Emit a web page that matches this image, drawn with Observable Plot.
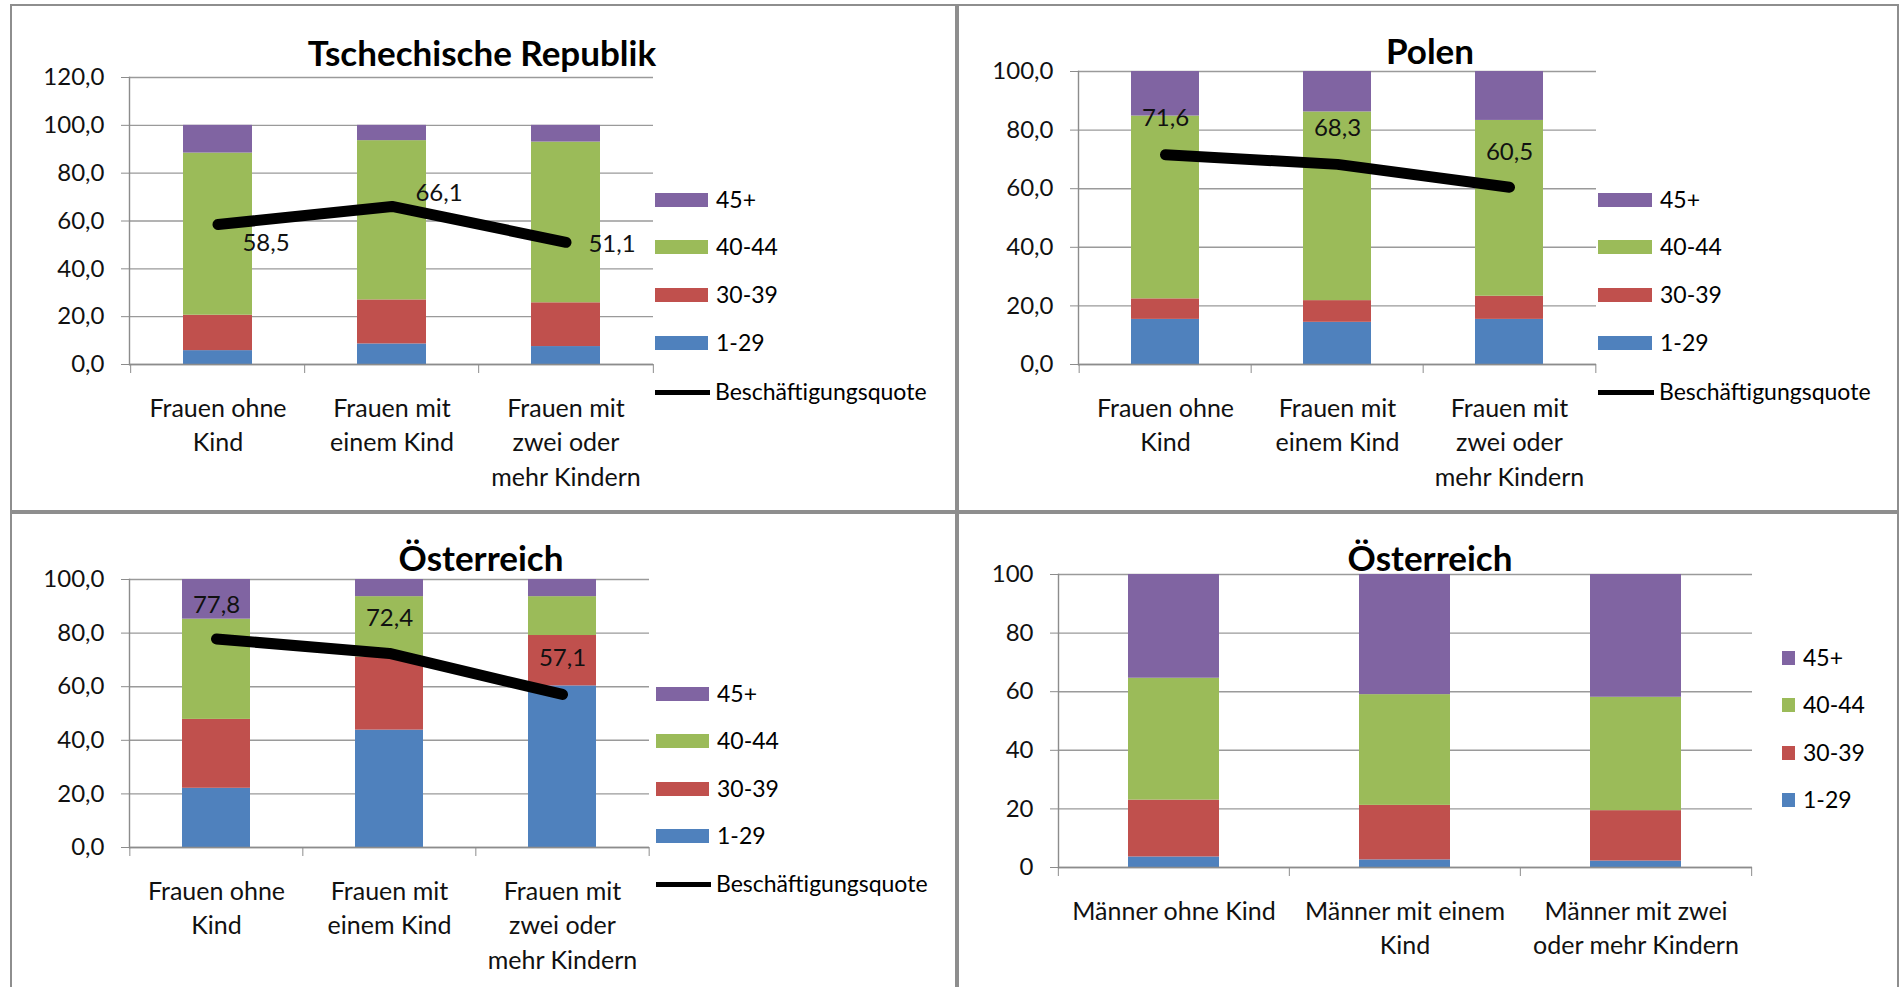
<!DOCTYPE html>
<html><head><meta charset="utf-8">
<script src="https://cdn.jsdelivr.net/npm/d3@7"></script>
<script src="https://cdn.jsdelivr.net/npm/@observablehq/plot@0.6"></script>
<style>
body{margin:0;background:#fff;font-family:Lato,"Open Sans",sans-serif;}
#page{position:relative;width:1901px;height:987px;overflow:hidden;background:#fff;}
.panel{position:absolute;box-sizing:border-box;border:2.5px solid #8e8e8e;}
.chart{position:absolute;}
.txt{position:absolute;line-height:1;white-space:nowrap;color:#000;}
.sw{position:absolute;}
</style></head><body><div id="page"></div>
<script>
// ---------- data ----------
const ageGroups = ["1-29", "30-39", "40-44", "45+"];
const ageColors = ["#4F81BD", "#C0504D", "#9BBB59", "#8064A2"];
const quoteName = "Beschäftigungsquote";

const womenCats = ["Frauen ohne Kind", "Frauen mit einem Kind", "Frauen mit zwei oder mehr Kindern"];
const womenLabels = ["Frauen ohne\nKind", "Frauen mit\neinem Kind", "Frauen mit\nzwei oder\nmehr Kindern"];
const menCats = ["Männer ohne Kind", "Männer mit einem Kind", "Männer mit zwei oder mehr Kindern"];
const menLabels = ["Männer ohne Kind", "Männer mit einem\nKind", "Männer mit zwei\noder mehr Kindern"];

const titles = ["Tschechische Republik", "Polen", "Österreich", "Österreich"];

const yTicks120 = [0, 20, 40, 60, 80, 100, 120];
const yTicks100 = [0, 20, 40, 60, 80, 100];

// rows = categories, columns = ageGroups (1-29, 30-39, 40-44, 45+)
const czechShares = [[5.8, 14.8, 67.8, 11.6], [8.6, 18.4, 66.6, 6.4], [7.5, 18.3, 67.2, 7.0]];
const czechQuote = [58.5, 66.1, 51.1];
const polandShares = [[15.4, 7.0, 62.4, 15.2], [14.4, 7.4, 64.4, 13.8], [15.4, 7.9, 60.0, 16.7]];
const polandQuote = [71.6, 68.3, 60.5];
const austriaWomenShares = [[22.1, 25.7, 37.4, 14.8], [43.8, 27.3, 22.5, 6.4], [60.3, 18.8, 14.5, 6.4]];
const austriaWomenQuote = [77.8, 72.4, 57.1];
const austriaMenShares = [[3.6, 19.4, 41.6, 35.4], [2.6, 18.6, 37.8, 41.0], [2.2, 17.2, 38.7, 41.9]];

// ---------- styling / layout ----------
const gridColor = "#9a9a9a";
const axisColor = "#8c8c8c";
const fmtComma = d => d.toFixed(1).replace(".", ",");
const fmtInt = d => String(d);
const page = document.getElementById("page");

function textDiv(str, x, baseline, size, weight, anchor) {
  const el = document.createElement("div");
  el.className = "txt";
  el.textContent = str;
  el.style.fontSize = size + "px";
  el.style.fontWeight = weight;
  el.style.top = (baseline - 0.887 * size) + "px";
  el.style.left = x + "px";
  if (anchor === "middle") el.style.transform = "translateX(-50%)";
  page.appendChild(el);
}

const panels = [
  {box: [10, 4, 947, 508], svg: [0, 0, 955, 508], x0: 129, x1: 653, yTop: 77, yBot: 364,
   cats: womenCats, labels: womenLabels, shares: czechShares, quote: czechQuote, ticks: yTicks120, fmt: fmtComma,
   title: titles[0], titleX: 482, titleY: 66,
   labelOff: [[48, 19], [47, -13], [46, 2]],
   legend: {x: 655, w: 53, h: 14, rows: [200, 247, 295, 343], line: 392}},
  {box: [957, 4, 942, 508], svg: [955, 0, 946, 508], x0: 1078, x1: 1596, yTop: 71, yBot: 364,
   cats: womenCats, labels: womenLabels, shares: polandShares, quote: polandQuote, ticks: yTicks100, fmt: fmtComma,
   title: titles[1], titleX: 1430, titleY: 64,
   labelOff: [[0, -36], [0, -36], [0, -35]],
   legend: {x: 1598, w: 54, h: 14, rows: [200, 247, 295, 343], line: 392}},
  {box: [10, 512, 947, 490], svg: [0, 510, 955, 477], x0: 129, x1: 649, yTop: 579, yBot: 847,
   cats: womenCats, labels: womenLabels, shares: austriaWomenShares, quote: austriaWomenQuote, ticks: yTicks100, fmt: fmtComma,
   title: titles[2], titleX: 481, titleY: 571,
   labelOff: [[0, -34], [0, -35], [0, -36]],
   legend: {x: 656, w: 53, h: 14, rows: [694, 741, 789, 836], line: 884}},
  {box: [957, 512, 942, 490], svg: [955, 510, 946, 477], x0: 1058, x1: 1752, yTop: 574, yBot: 867,
   cats: menCats, labels: menLabels, shares: austriaMenShares, quote: null, ticks: yTicks100, fmt: fmtInt,
   title: titles[3], titleX: 1430, titleY: 571,
   labelOff: null,
   legend: {x: 1782, w: 13, h: 14, rows: [658, 705, 753, 800], line: null}}
];

for (const p of panels) {
  const b = document.createElement("div");
  b.className = "panel";
  b.style.left = p.box[0] + "px"; b.style.top = p.box[1] + "px";
  b.style.width = p.box[2] + "px"; b.style.height = p.box[3] + "px";
  page.appendChild(b);
}

for (const p of panels) {
  const [sl, st, sw, sh] = p.svg;
  const data = [];
  p.cats.forEach((c, i) => ageGroups.forEach((a, j) => data.push({cat: c, age: a, value: p.shares[i][j]})));
  const step = (p.x1 - p.x0) / p.cats.length;
  const ymax = p.ticks[p.ticks.length - 1];
  const marks = [
    Plot.gridY(p.ticks, {stroke: gridColor, strokeOpacity: 1, strokeWidth: 1.4}),
    Plot.barY(data, {x: "cat", y: "value", fill: "age"}),
    Plot.ruleY([0], {stroke: axisColor, strokeWidth: 1.4}),
    Plot.frame({anchor: "left", stroke: axisColor, strokeWidth: 1.4}),
    Plot.axisY(p.ticks, {tickSize: 8, tickPadding: 17, tickFormat: p.fmt, fontSize: 24, stroke: axisColor, fill: "#111", label: null}),
    Plot.axisX(p.cats, {tickSize: 9, dx: -step / 2, tickFormat: () => "", fill: "none", stroke: axisColor, label: null}),
    Plot.axisX([p.cats[p.cats.length - 1]], {tickSize: 9, dx: step / 2, tickFormat: () => "", fill: "none", stroke: axisColor, label: null}),
    Plot.axisX(p.cats, {tickSize: 0, tickPadding: 28, tickFormat: (d) => p.labels[p.cats.indexOf(d)], fontSize: 25, lineHeight: 1.38, fill: "#111", label: null})
  ];
  if (p.quote) {
    const q = p.quote.map((v, i) => ({cat: p.cats[i], v}));
    marks.push(Plot.line(q, {x: "cat", y: "v", stroke: "#000", strokeWidth: 11, strokeLinecap: "round", strokeLinejoin: "round"}));
    q.forEach((d, i) => {
      marks.push(Plot.text([d], {x: "cat", y: "v", text: d => fmtComma(d.v), dx: p.labelOff[i][0], dy: p.labelOff[i][1], fontSize: 24, fill: "#111"}));
    });
  }
  const chart = Plot.plot({
    width: sw, height: sh,
    marginLeft: p.x0 - sl, marginRight: sl + sw - p.x1,
    marginTop: p.yTop - st, marginBottom: st + sh - p.yBot,
    x: {domain: p.cats, paddingInner: 0.605, paddingOuter: 0.3025, label: null},
    y: {domain: [0, ymax], label: null},
    color: {domain: ageGroups, range: ageColors},
    style: {fontFamily: "Lato, 'Open Sans', sans-serif", background: "transparent", overflow: "visible", color: "#111"},
    marks
  });
  chart.classList.add("chart");
  chart.style.left = sl + "px"; chart.style.top = st + "px";
  page.appendChild(chart);

  // title
  textDiv(p.title, p.titleX, p.titleY, 35, 700, "middle");

  // legend
  const L = p.legend;
  const order = [3, 2, 1, 0];
  order.forEach((j, r) => {
    const cy = L.rows[r];
    const s = document.createElement("div");
    s.className = "sw";
    s.style.left = L.x + "px"; s.style.top = (cy - L.h / 2) + "px";
    s.style.width = L.w + "px"; s.style.height = L.h + "px";
    s.style.background = ageColors[j];
    page.appendChild(s);
    textDiv(ageGroups[j], L.x + L.w + 8, cy + 8, 23, 400, "start");
  });
  if (L.line) {
    const s = document.createElement("div");
    s.className = "sw";
    s.style.left = L.x + "px"; s.style.top = (L.line - 2.5) + "px";
    s.style.width = (L.w + 2) + "px"; s.style.height = "5px";
    s.style.background = "#000";
    page.appendChild(s);
    textDiv(quoteName, L.x + L.w + 7, L.line + 8, 23, 400, "start");
  }
}
</script>
</body></html>
